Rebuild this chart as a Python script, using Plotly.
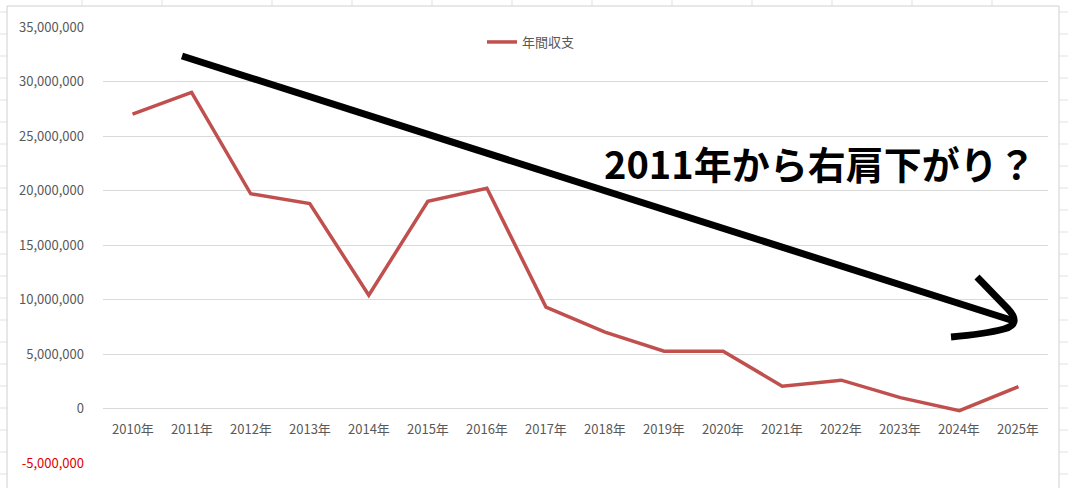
import plotly.graph_objects as go

# data
years = ["2010年", "2011年", "2012年", "2013年", "2014年", "2015年", "2016年", "2017年",
         "2018年", "2019年", "2020年", "2021年", "2022年", "2023年", "2024年", "2025年"]
balance = [27000000, 29000000, 19700000, 18800000, 10400000, 19000000, 20200000, 9300000,
           7000000, 5250000, 5250000, 2050000, 2600000, 1000000, -200000, 2000000]
series_name = "年間収支"
y_ticks = [-5000000, 0, 5000000, 10000000, 15000000, 20000000, 25000000, 30000000, 35000000]
comment = "2011年から右肩下がり？"

W, H = 1068, 488
L, R, T, B = 103, 1048, 27, 463   # plot area in px


def px(x):
    return (x - L) / (R - L)


def py(y):
    return (B - y) / (B - T)


FONT = "Noto Sans CJK JP, Noto Sans, sans-serif"
GRID = "#d9d9d9"

fig = go.Figure()
fig.add_trace(go.Scatter(
    x=years, y=balance, name=series_name, mode="lines",
    line=dict(color="#c0504d", width=3.5),
))

shapes = []
# spreadsheet cells behind the chart
for yy in range(12, H + 22, 22):
    shapes.append(dict(type="line", xref="paper", yref="paper", layer="below",
                       x0=px(0), x1=px(W), y0=py(yy), y1=py(yy),
                       line=dict(color="#e1e1e1", width=1)))
for xx in [82, 162, 272, 352, 432, 512, 592, 672, 752, 832, 912, 992]:
    shapes.append(dict(type="line", xref="paper", yref="paper", layer="below",
                       x0=px(xx), x1=px(xx), y0=py(0), y1=py(H),
                       line=dict(color="#e1e1e1", width=1)))
# chart area
shapes.append(dict(type="rect", xref="paper", yref="paper", layer="below",
                   x0=px(7), x1=px(1059), y0=py(6), y1=py(H + 10),
                   fillcolor="white", line=dict(color="#d0d0d0", width=1)))

# hand-drawn arrow
shapes.append(dict(type="line", xref="paper", yref="paper",
                   x0=px(182), y0=py(56), x1=px(1014), y1=py(321),
                   line=dict(color="black", width=7)))
shapes.append(dict(type="path", xref="paper", yref="paper",
                   path=(f"M {px(977)} {py(277)} L {px(1008)} {py(309)} "
                         f"Q {px(1022)} {py(324)} {px(1004)} {py(329)} "
                         f"Q {px(985)} {py(334)} {px(951)} {py(337)}"),
                   line=dict(color="black", width=7)))

annotations = []
for yr in years:
    annotations.append(dict(x=yr, y=0, xref="x", yref="y", text=yr, showarrow=False,
                            yanchor="top", yshift=-8,
                            font=dict(family=FONT, size=13, color="#595959")))
annotations.append(dict(x=px(820), y=py(162), xref="paper", yref="paper", text=f"<b>{comment}</b>",
                        showarrow=False, xanchor="center", yanchor="middle",
                        font=dict(family=FONT, size=38, color="black")))

tick_text = [f"<span style='color:#e00000'>{v:,}</span>" if v < 0 else f"{v:,}" for v in y_ticks]

fig.update_layout(
    width=W, height=H,
    margin=dict(l=L, r=W - R, t=T, b=H - B, pad=0),
    paper_bgcolor="white",
    plot_bgcolor="rgba(0,0,0,0)",
    font=dict(family=FONT, size=13, color="#595959"),
    shapes=shapes,
    annotations=annotations,
    showlegend=True,
    legend=dict(orientation="h", x=px(482), y=py(42), xanchor="left", yanchor="middle",
                bgcolor="rgba(0,0,0,0)", font=dict(size=13, color="#595959")),
    xaxis=dict(type="category", range=[-0.5, len(years) - 0.5], showgrid=False,
               showticklabels=False, zeroline=False, showline=False),
    yaxis=dict(range=[-5000000, 35000000], tickvals=y_ticks, ticktext=tick_text,
               showgrid=True, gridcolor=GRID, gridwidth=1, zeroline=False, showline=False,
               ticklabelstandoff=18, tickfont=dict(size=13, color="#595959")),
)

fig.write_html("out.html", config={"displayModeBar": False},
               post_script="document.body.style.margin='0';")
